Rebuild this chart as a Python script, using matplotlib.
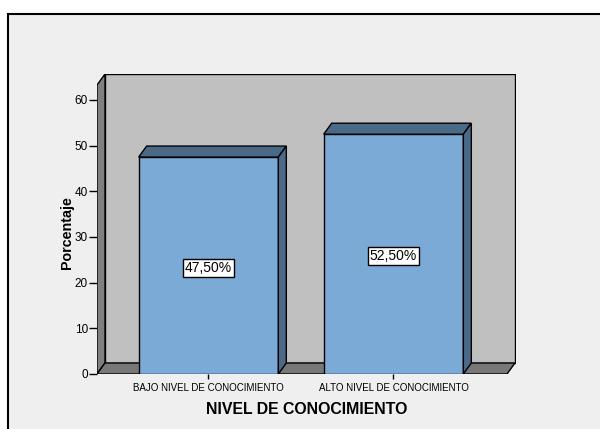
import matplotlib
matplotlib.use('Agg')
import matplotlib.pyplot as plt
from matplotlib.patches import Polygon, Rectangle

categories = ['BAJO NIVEL DE CONOCIMIENTO', 'ALTO NIVEL DE CONOCIMIENTO']
values = [47.5, 52.5]
yticks = [0, 10, 20, 30, 40, 50, 60]

plt.rcParams['font.family'] = ['Liberation Sans', 'DejaVu Sans']

fig = plt.figure(figsize=(6, 4.29), dpi=100, facecolor='white')
fig.patches.append(Rectangle((8/600, -0.1), 1.1, 1.1 - 14/429, transform=fig.transFigure,
                             facecolor='#efefef', edgecolor='black', lw=1.5, zorder=-10))

ax = fig.add_axes([97/600, 55/429, 418.6/600, 300/429])
ax.set_facecolor('none')
for s in ax.spines.values():
    s.set_visible(False)

x0, x1 = -0.6027, 1.6135   # front floor extent
dx, dy = 0.0432, 2.41       # depth offset
ytop = 63.28
ax.set_xlim(x0, 1.66)
ax.set_ylim(0, 65.69)

kw = dict(edgecolor='black', lw=1, joinstyle='miter')
# back wall
ax.add_patch(Polygon([(x0+dx, dy), (x1+dx, dy), (x1+dx, ytop+dy), (x0+dx, ytop+dy)],
                     facecolor='#c0c0c0', zorder=1, **kw))
# left wall
ax.add_patch(Polygon([(x0, 0), (x0+dx, dy), (x0+dx, ytop+dy), (x0, ytop)],
                     facecolor='#7f7f7f', zorder=2, **kw))
# floor
ax.add_patch(Polygon([(x0, 0), (x1, 0), (x1+dx, dy), (x0+dx, dy)],
                     facecolor='#787878', zorder=2, **kw))

w = 0.755
for i, v in enumerate(values):
    l, r = i - w/2, i + w/2
    ax.add_patch(Polygon([(l, 0), (r, 0), (r, v), (l, v)], facecolor='#7baad6', zorder=3, **kw))
    ax.add_patch(Polygon([(l, v), (r, v), (r+dx, v+dy), (l+dx, v+dy)], facecolor='#4a6a88', zorder=3, **kw))
    ax.add_patch(Polygon([(r, 0), (r+dx, dy), (r+dx, v+dy), (r, v)], facecolor='#4a6a88', zorder=3, **kw))
    ax.text(i, v/2 - 0.5, ('%.2f' % v).replace('.', ',') + '%', ha='center', va='center', fontsize=10,
            zorder=5, bbox=dict(boxstyle='square,pad=0.15', facecolor='white', edgecolor='black', lw=1))

ax.set_yticks(yticks)
ax.set_yticklabels([str(t) for t in yticks], fontsize=8.5)
ax.set_xticks(range(len(categories)))
ax.set_xticklabels(categories, fontsize=7)
ax.tick_params(axis='y', length=6, width=1, pad=0.5)
ax.tick_params(axis='x', length=3.6, width=1, pad=3)

ax.set_xlabel('NIVEL DE CONOCIMIENTO', fontsize=11.4, fontweight='bold', labelpad=6)
ax.set_ylabel('Porcentaje', fontsize=10.3, fontweight='bold', va='center')
ax.yaxis.set_label_coords((66.7-97)/418.6, (374-232.7)/300)

plt.savefig('out.png', dpi=100, facecolor=fig.get_facecolor())
